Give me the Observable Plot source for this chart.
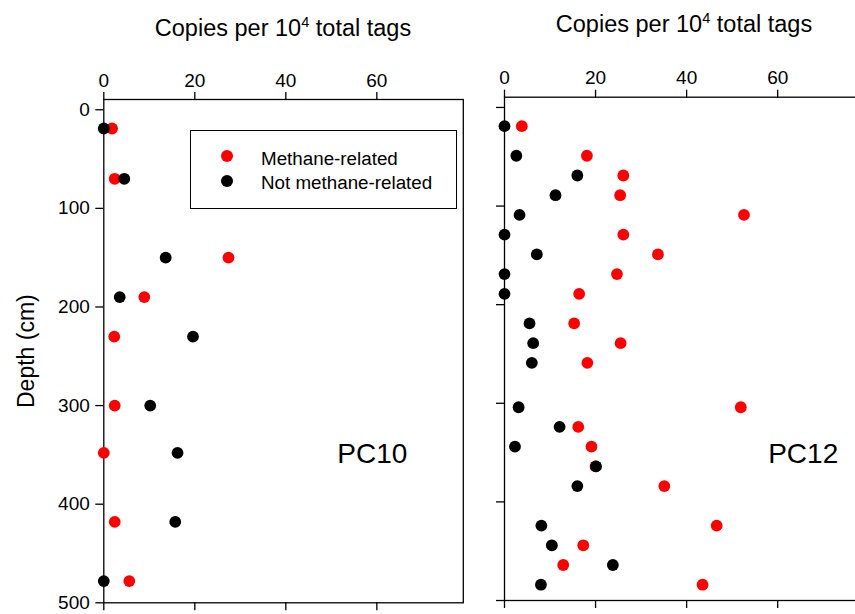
<!DOCTYPE html>
<html>
<head>
<meta charset="utf-8">
<script src="https://cdn.jsdelivr.net/npm/d3@7"></script>
<script src="https://cdn.jsdelivr.net/npm/@observablehq/plot@0.6"></script>
<style>
  body { margin: 0; background: #fff; font-family: Arial, "Liberation Sans", sans-serif; color: #000; }
  #chart { position: relative; width: 855px; height: 614px; overflow: hidden; background: #fff; }
  .panel { position: absolute; top: 0; }
  .panel svg { max-width: none; display: block; }
  .title { position: absolute; font-size: 23.5px; line-height: 1; white-space: nowrap; text-align: center; width: 300px; }
  .title sup { font-size: 0.62em; vertical-align: 0; position: relative; top: -0.62em; }
  .legend { position: absolute; left: 190px; top: 130px; width: 265px; height: 77px; border: 1.3px solid #000; background: #fff; }
  .legend .key { position: absolute; left: 30px; width: 12px; height: 12px; border-radius: 50%; }
  .legend .lab { position: absolute; left: 70px; font-size: 18.8px; line-height: 1; white-space: nowrap; }
</style>
</head>
<body>
<div id="chart"></div>
<script>
// Sediment depth (cm) and abundances (copies per 10^4 total tags)
const depthPC10 = [19, 70, 150, 190, 230, 300, 348, 418, 478];
const methanePC10 = [1.8, 2.4, 27.4, 8.9, 2.3, 2.4, 0, 2.4, 5.6];
const otherPC10 = [0, 4.5, 13.6, 3.5, 19.6, 10.2, 16.2, 15.7, 0];

const depthPC12 = [19, 49, 69, 89, 109, 129, 149, 169, 189, 219, 239, 259, 304, 324, 344, 364, 384, 424, 444, 464, 484];
const methanePC12 = [3.8, 18.1, 26.1, 25.4, 52.6, 26.1, 33.7, 24.7, 16.4, 15.3, 25.5, 18.2, 51.9, 16.2, 19.1, 20, 35.1, 46.6, 17.3, 12.9, 43.5];
const otherPC12 = [0, 2.6, 16.0, 11.2, 3.3, 0, 7.1, 0, 0, 5.5, 6.3, 6.0, 3.1, 12.1, 2.3, 20.1, 16.0, 8.1, 10.4, 23.8, 8.0];

const seriesNames = ["Methane-related", "Not methane-related"];
const seriesColors = ["#ff0000", "#000000"];
const xTicks = [0, 20, 40, 60];
const yTicks = [0, 100, 200, 300, 400, 500];
const xDomain = [0, 79];
const yDomain = [-10.4, 500];
const xTitle = ["Copies per 10", "4", " total tags"];
const yTitle = "Depth (cm)";

const chart = document.getElementById("chart");

function rows(depth, values, series) {
  return depth.map((d, i) => ({depth: d, value: values[i], series}));
}

function panel({name, depth, methane, other, showYLabels, labelAt, left, width, marginLeft, marginTop, marginBottom, marginRight}) {
  const data = [
    ...rows(depth, methane, seriesNames[0]),
    ...rows(depth, other, seriesNames[1])
  ];
  const fig = Plot.plot({
    width, height: 614,
    marginLeft, marginTop, marginBottom, marginRight,
    style: {fontFamily: 'Arial, "Liberation Sans", sans-serif', fontSize: "19px", color: "#000", background: "transparent", overflow: "visible"},
    x: {domain: xDomain},
    y: {domain: yDomain, reverse: true},
    color: {domain: seriesNames, range: seriesColors},
    marks: [
      Plot.frame({stroke: "#000", strokeWidth: 1.3}),
      Plot.axisX({anchor: "top", ticks: xTicks, tickSize: 8, tickPadding: 5, strokeWidth: 1.3, label: null}),
      Plot.axisX({anchor: "bottom", ticks: xTicks, tickSize: 8, tickFormat: () => "", strokeWidth: 1.3, label: null}),
      Plot.axisY({anchor: "left", ticks: yTicks, tickSize: 8, tickPadding: 6, strokeWidth: 1.3, label: null,
                  tickFormat: showYLabels ? (d) => String(d) : () => ""}),
      showYLabels ? Plot.text([yTitle], {frameAnchor: "left", rotate: -90, dx: -77, fontSize: 23, textAnchor: "middle"}) : null,
      Plot.dot(data, {x: "value", y: "depth", fill: "series", r: 5.9}),
      Plot.text([name], {x: () => labelAt[0], y: () => labelAt[1], fontSize: 28, textAnchor: "middle"})
    ]
  });
  const wrap = document.createElement("div");
  wrap.className = "panel";
  wrap.style.left = left + "px";
  wrap.style.width = width + "px";
  wrap.appendChild(fig);
  chart.appendChild(wrap);
}

panel({name: "PC10", depth: depthPC10, methane: methanePC10, other: otherPC10, showYLabels: true,
       labelAt: [59, 349], left: 0, width: 470, marginLeft: 103.3, marginTop: 99, marginBottom: 11.7, marginRight: 7.2});
panel({name: "PC12", depth: depthPC12, methane: methanePC12, other: otherPC12, showYLabels: false,
       labelAt: [65.6, 351], left: 400, width: 474, marginLeft: 104, marginTop: 96.7, marginBottom: 14, marginRight: 10.3});

// Axis titles above each panel
[[133, 16.6], [534, 13.4]].forEach(([l, t]) => {
  const d = document.createElement("div");
  d.className = "title";
  d.style.left = l + "px";
  d.style.top = t + "px";
  d.innerHTML = `${xTitle[0]}<sup>${xTitle[1]}</sup>${xTitle[2]}`;
  chart.appendChild(d);
});

// Legend inside the PC10 panel
const legend = document.createElement("div");
legend.className = "legend";
seriesNames.forEach((s, i) => {
  const k = document.createElement("div");
  k.className = "key";
  k.style.top = (19 + i * 25.3) + "px";
  k.style.background = seriesColors[i];
  legend.appendChild(k);
  const t = document.createElement("div");
  t.className = "lab";
  t.style.top = (18.5 + i * 24.5) + "px";
  t.textContent = s;
  legend.appendChild(t);
});
chart.appendChild(legend);
</script>
</body>
</html>
